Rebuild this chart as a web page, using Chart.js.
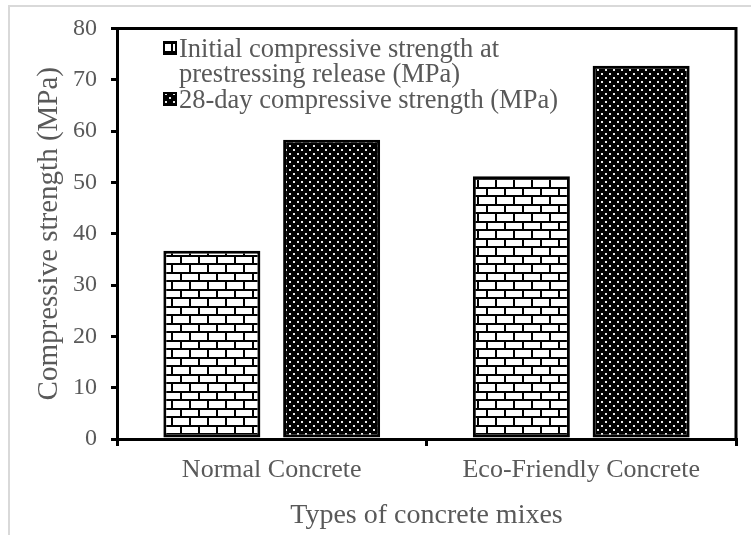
<!DOCTYPE html>
<html lang="en">
<head>
  <meta charset="UTF-8" />
  <title>Compressive strength of concrete mixes</title>
  <script src="https://cdn.jsdelivr.net/npm/chart.js"></script>
  <style>
    body { margin: 0; background: #fff; }
    .frame { position: relative; width: 751px; height: 535px; }
    .frame::before {
      content: ""; position: absolute; left: 8px; top: 5px; right: 0; bottom: 0;
      border-top: 2px solid #d9d9d9; border-left: 2px solid #d9d9d9;
    }
    canvas { position: absolute; left: 0; top: 0; }
  </style>
</head>
<body>
  <div class="frame"><canvas id="strengthChart"></canvas></div>

  <script>
    const mixes = ["Normal Concrete", "Eco-Friendly Concrete"];
    const releaseStrength = [36.7, 51.2];
    const day28Strength = [58.3, 72.7];
    const releaseLabel = ["Initial compressive strength at", "prestressing release (MPa)"];
    const day28Label = ["28-day compressive strength (MPa)"];
    const yMax = 80;
    const yStep = 10;

    const serif = '"Liberation Serif", "Times New Roman", serif';
    const grey = '#595959';

    // white bricks with black mortar
    function brickPattern(ctx) {
      const c = document.createElement('canvas');
      c.width = 18; c.height = 17;
      const g = c.getContext('2d');
      g.fillStyle = '#fff';
      g.fillRect(0, 0, 18, 17);
      g.fillStyle = '#000';
      g.fillRect(0, 0, 18, 2);
      g.fillRect(0, 8, 18, 2);
      g.fillRect(0, 0, 2, 8);
      g.fillRect(9, 8, 2, 9);
      return ctx.createPattern(c, 'repeat');
    }

    // black fill with small light dots
    function dotPattern(ctx) {
      const c = document.createElement('canvas');
      c.width = 8; c.height = 8;
      const g = c.getContext('2d');
      g.fillStyle = '#000';
      g.fillRect(0, 0, 8, 8);
      g.fillStyle = '#e8e8e8';
      g.fillRect(1, 1, 2, 2);
      g.fillRect(5, 5, 2, 2);
      return ctx.createPattern(c, 'repeat');
    }

    const ctx = document.getElementById('strengthChart').getContext('2d');
    const bricks = brickPattern(ctx);
    const dots = dotPattern(ctx);

    // top and right edges of the plot box
    const boxEdges = {
      id: 'boxEdges',
      afterDraw(chart) {
        const { ctx, chartArea: a } = chart;
        ctx.save();
        ctx.strokeStyle = '#000';
        ctx.lineWidth = 3;
        ctx.beginPath();
        ctx.moveTo(a.left, a.top);
        ctx.lineTo(a.right, a.top);
        ctx.lineTo(a.right, a.bottom);
        ctx.stroke();
        ctx.restore();
      }
    };

    // legend inside the top-left corner of the plot
    const innerLegend = {
      id: 'innerLegend',
      afterDraw(chart) {
        const { ctx } = chart;
        const entries = [
          { lines: releaseLabel, fill: bricks, y: 41 },
          { lines: day28Label, fill: dots, y: 92 }
        ];
        ctx.save();
        ctx.font = '26.5px ' + serif;
        ctx.fillStyle = grey;
        ctx.textBaseline = 'alphabetic';
        entries.forEach(e => {
          ctx.save();
          ctx.fillStyle = '#000';
          ctx.fillRect(163, e.y, 14, 14);
          ctx.fillStyle = e.fill;
          ctx.fillRect(165, e.y + 2, 10, 10);
          ctx.restore();
          e.lines.forEach((t, i) => ctx.fillText(t, 179, e.y + 16 + i * 25));
        });
        ctx.restore();
      }
    };

    new Chart(ctx, {
      type: 'bar',
      data: {
        labels: mixes,
        datasets: [
          {
            label: releaseLabel.join(' '),
            data: releaseStrength,
            backgroundColor: bricks,
            borderColor: '#000',
            borderWidth: 3,
            borderSkipped: false
          },
          {
            label: day28Label.join(' '),
            data: day28Strength,
            backgroundColor: dots,
            borderColor: '#000',
            borderWidth: 3,
            borderSkipped: false
          }
        ]
      },
      options: {
        responsive: true,
        maintainAspectRatio: false,
        animation: false,
        datasets: { bar: { categoryPercentage: 0.774, barPercentage: 0.81 } },
        layout: { padding: { left: 0, right: 15, top: 27, bottom: 0 } },
        plugins: {
          legend: { display: false },
          tooltip: { enabled: false }
        },
        scales: {
          x: {
            afterFit: s => { s.height = 96; },
            grid: { drawOnChartArea: false, color: '#000', lineWidth: 3, tickLength: 7, offset: true },
            border: { color: '#000', width: 3 },
            ticks: { color: grey, font: { family: serif, size: 26 }, padding: 9, maxRotation: 0 },
            title: {
              display: true, text: 'Types of concrete mixes', color: grey,
              font: { family: serif, size: 28 }, padding: { top: 0, bottom: 3 }
            }
          },
          y: {
            min: 0, max: yMax,
            afterFit: s => { s.width = 117; },
            grid: { drawOnChartArea: false, color: '#000', lineWidth: 3, tickLength: 6 },
            border: { color: '#000', width: 3 },
            ticks: { stepSize: yStep, color: grey, font: { family: serif, size: 24 }, padding: 14 },
            title: {
              display: true, text: 'Compressive strength (MPa)', color: grey,
              font: { family: serif, size: 29 }, padding: { top: 32, bottom: 0 }
            }
          }
        }
      },
      plugins: [boxEdges, innerLegend]
    });
  </script>
</body>
</html>
